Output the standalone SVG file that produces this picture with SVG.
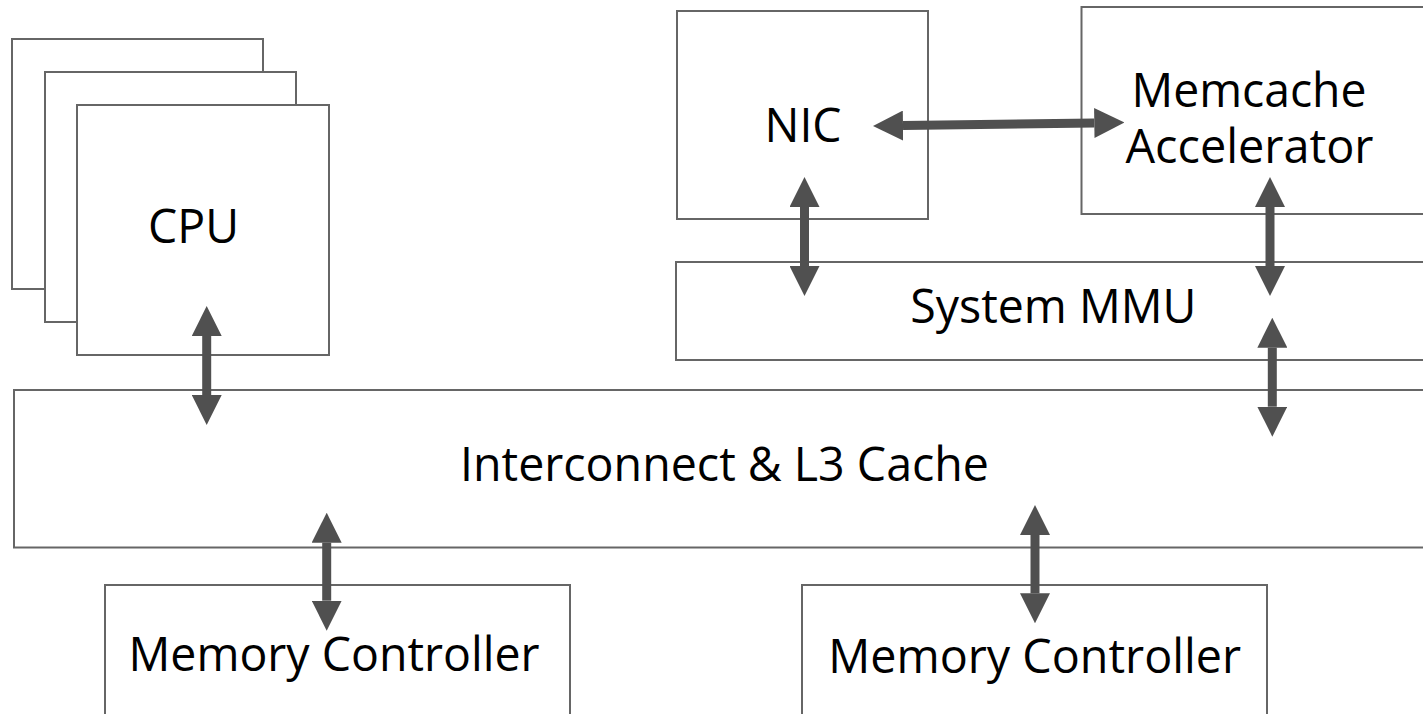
<svg xmlns="http://www.w3.org/2000/svg" width="1423" height="714" viewBox="0 0 1423 714">
  <style>
    .box { fill: #ffffff; stroke: #666666; stroke-width: 2; }
    .lbl { font-family: "Open Sans", "Noto Sans", "Liberation Sans", sans-serif; font-size: 48px; fill: #000000; text-anchor: middle; }
    .conn { stroke: #505050; stroke-width: 9; fill: none; marker-start: url(#head); marker-end: url(#head); }
  </style>
  <defs>
    <marker id="head" markerUnits="userSpaceOnUse" markerWidth="30" markerHeight="30" refX="0" refY="15" orient="auto-start-reverse" viewBox="0 0 30 30">
      <path d="M0,0 L30,15 L0,30 z" fill="#505050"/>
    </marker>
  </defs>
  <rect width="1423" height="714" fill="#ffffff"/>

  <g id="cpu-stack">
    <rect class="box" x="12" y="39" width="251" height="250"/>
    <rect class="box" x="45" y="72" width="251" height="250"/>
    <rect class="box" x="77" y="105" width="252" height="250"/>
    <text class="lbl" x="193.5" y="243" textLength="91" lengthAdjust="spacingAndGlyphs">CPU</text>
  </g>

  <g id="nic">
    <rect class="box" x="677" y="11" width="251" height="208"/>
    <text class="lbl" x="803" y="141.5" textLength="77" lengthAdjust="spacingAndGlyphs">NIC</text>
  </g>

  <g id="memcache">
    <rect class="box" x="1081.5" y="7" width="360" height="207"/>
    <text class="lbl"><tspan x="1249" y="106.5" textLength="235" lengthAdjust="spacingAndGlyphs">Memcache</tspan><tspan x="1249.5" y="163.3" textLength="248" lengthAdjust="spacingAndGlyphs">Accelerator</tspan></text>
  </g>

  <g id="system-mmu">
    <rect class="box" x="676" y="262" width="770" height="98"/>
    <text class="lbl" x="1053.3" y="323.3" textLength="286" lengthAdjust="spacingAndGlyphs">System MMU</text>
  </g>

  <g id="interconnect">
    <rect class="box" x="14" y="390" width="1430" height="157.5"/>
    <text class="lbl" x="724.5" y="481" textLength="529" lengthAdjust="spacingAndGlyphs">Interconnect &amp; L3 Cache</text>
  </g>

  <g id="memory-controller-1">
    <rect class="box" x="105" y="585" width="465" height="150"/>
    <text class="lbl" x="334" y="671" textLength="411" lengthAdjust="spacingAndGlyphs">Memory Controller</text>
  </g>

  <g id="memory-controller-2">
    <rect class="box" x="802" y="585" width="465" height="150"/>
    <text class="lbl" x="1034.7" y="673" textLength="413" lengthAdjust="spacingAndGlyphs">Memory Controller</text>
  </g>

  <g id="connectors">
    <line class="conn" x1="206.7" y1="336" x2="206.7" y2="395"/>
    <line class="conn" x1="903" y1="125.6" x2="1094.3" y2="122.9"/>
    <line class="conn" x1="804.5" y1="207" x2="804.5" y2="266"/>
    <line class="conn" x1="1270" y1="207" x2="1270" y2="266"/>
    <line class="conn" x1="1272.3" y1="347.7" x2="1272.3" y2="406.7"/>
    <line class="conn" x1="326.7" y1="542.7" x2="326.7" y2="600.7"/>
    <line class="conn" x1="1035" y1="535" x2="1035" y2="593.3"/>
  </g>
</svg>
